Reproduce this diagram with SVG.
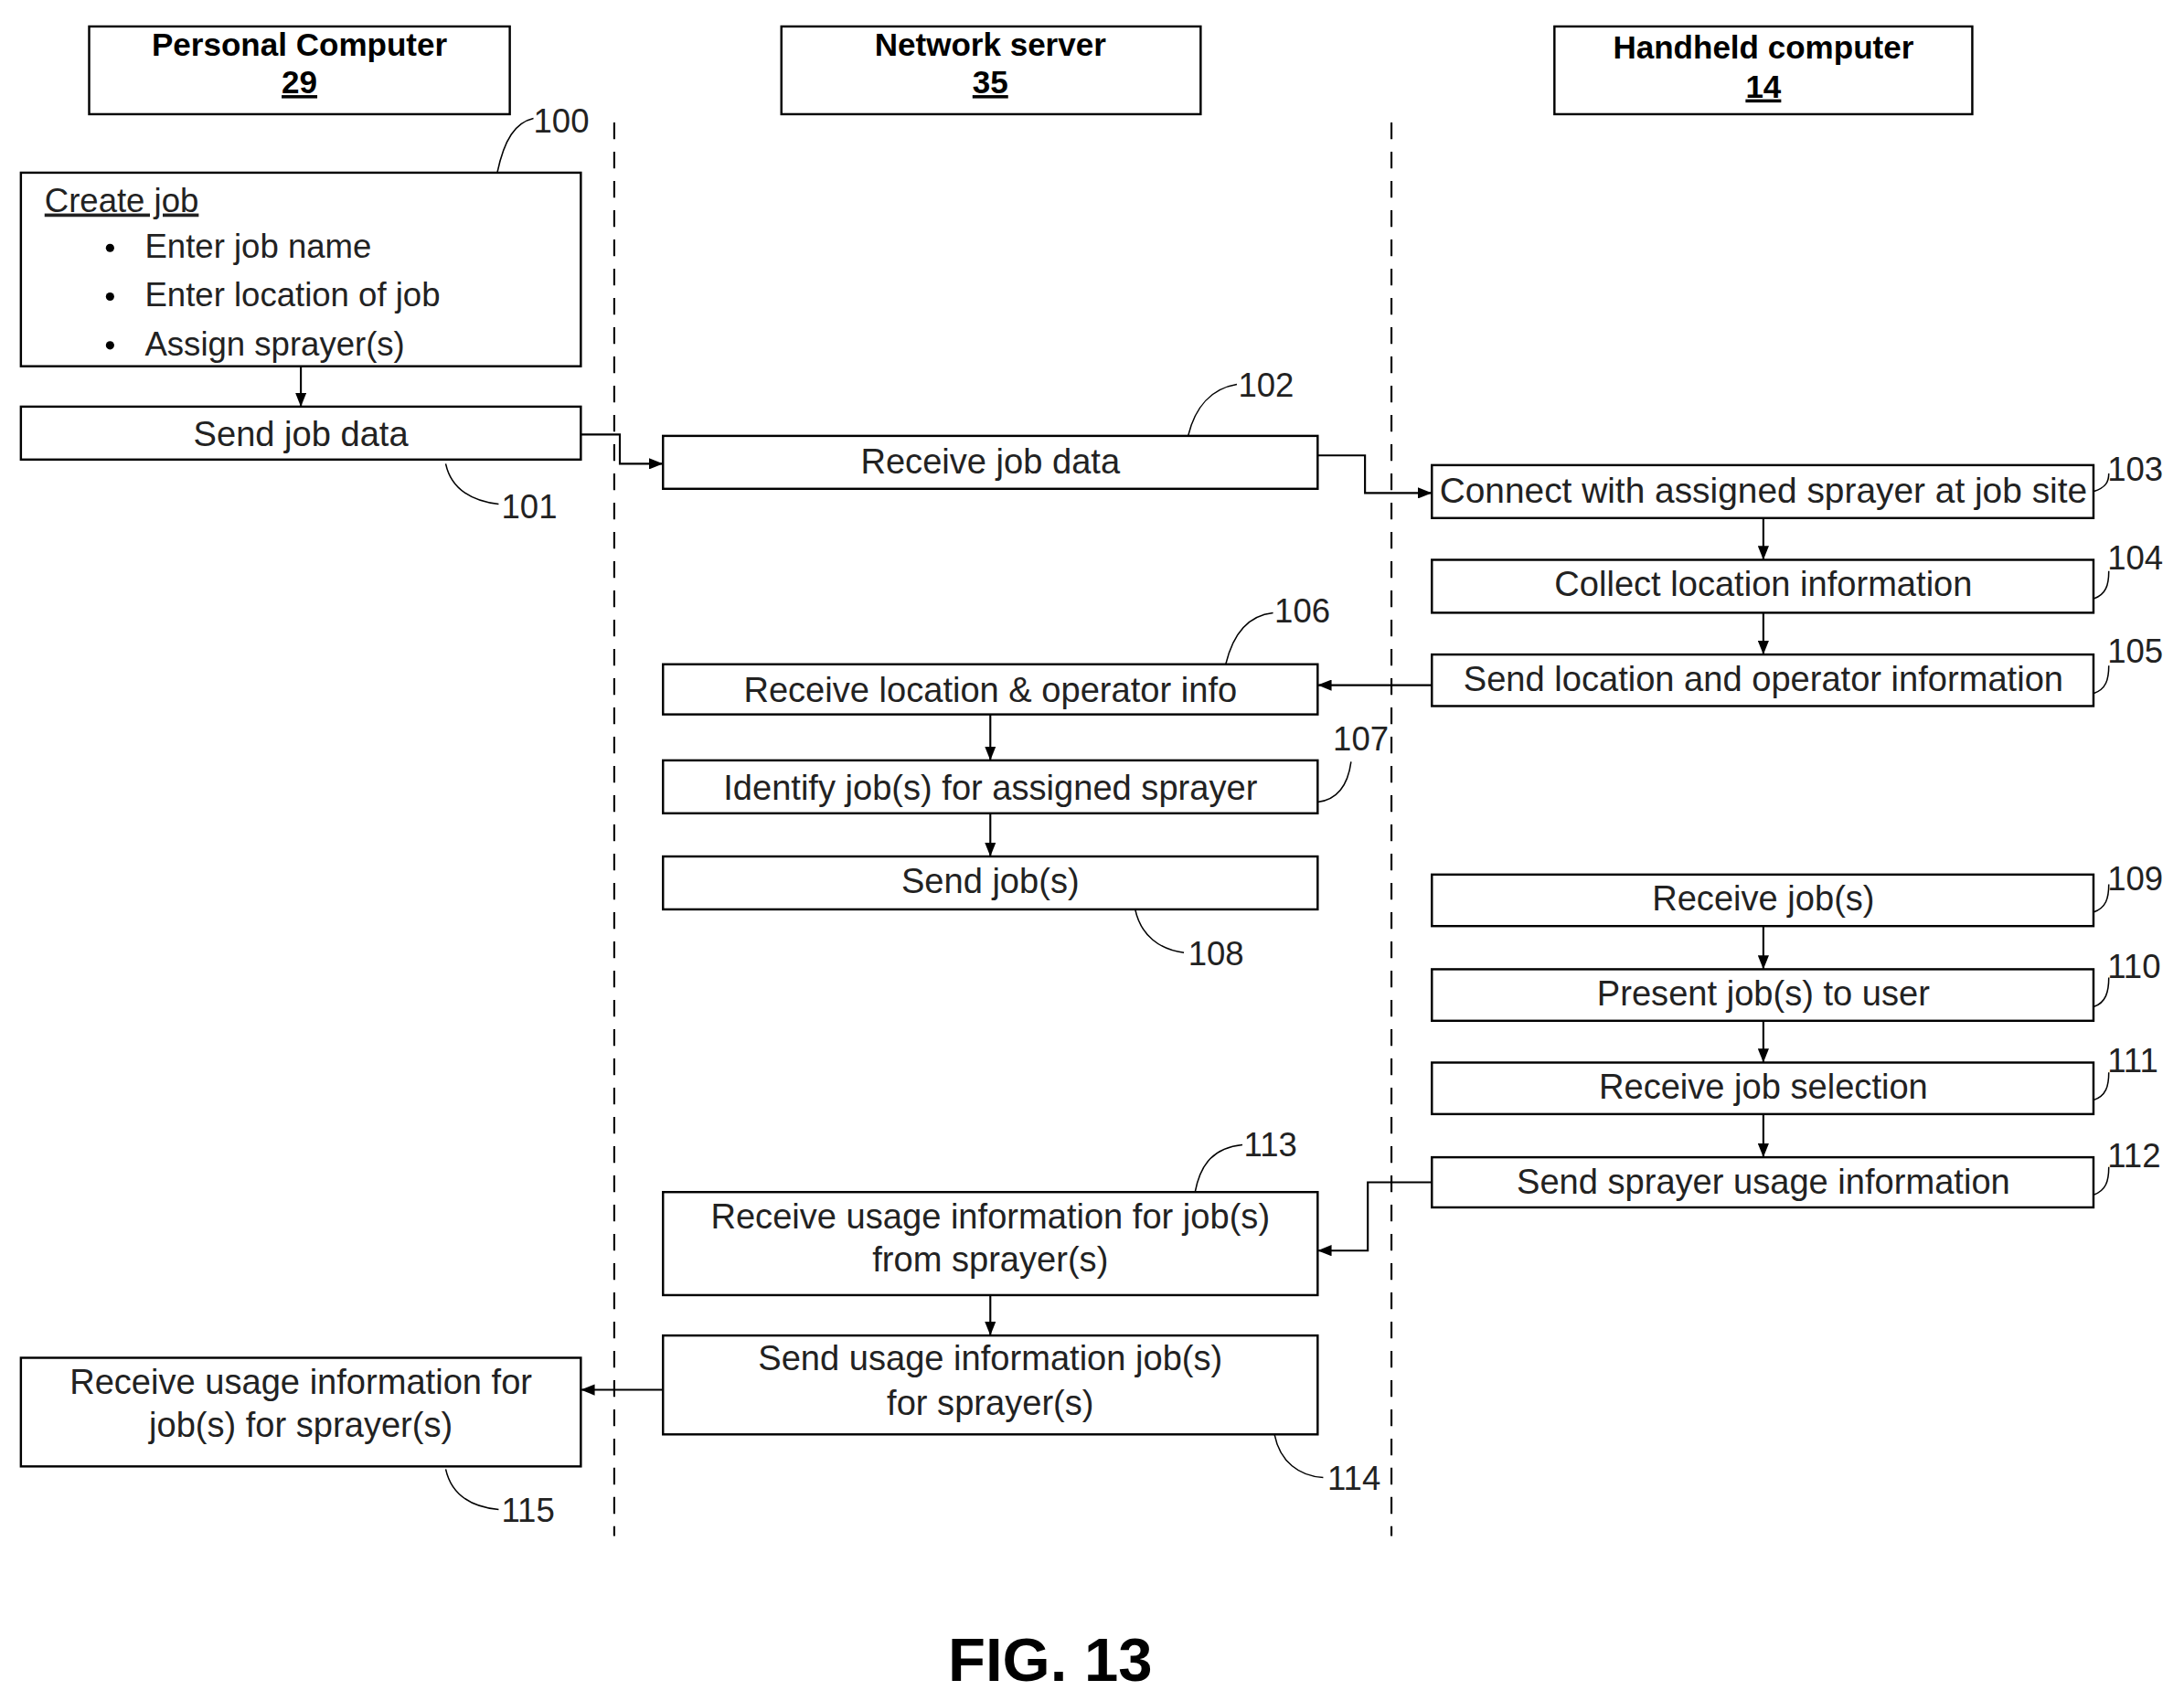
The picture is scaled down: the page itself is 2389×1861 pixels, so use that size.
<svg xmlns="http://www.w3.org/2000/svg" width="2389" height="1861" viewBox="0 0 2389 1861">
<defs>
<marker id="ah" markerWidth="10" markerHeight="8" refX="10" refY="4" orient="auto" markerUnits="userSpaceOnUse"><path d="M0,0 L10,4 L0,8 Z" fill="#000"/></marker>
</defs>
<style>
.b{fill:#fff;stroke:#000;stroke-width:1.6}
.t{font-family:"Liberation Sans",Arial,sans-serif;font-size:25px;fill:#222;text-anchor:middle}
.h{font-family:"Liberation Sans",Arial,sans-serif;font-size:23px;font-weight:bold;fill:#000;text-anchor:middle}
.r{font-family:"Liberation Sans",Arial,sans-serif;font-size:24px;fill:#222}
.c{fill:none;stroke:#000;stroke-width:1.4}
.l{fill:none;stroke:#000;stroke-width:1}
.d{stroke:#000;stroke-width:1.4;stroke-dasharray:12,9}
</style>
<rect width="2389" height="1861" fill="#fff"/>
<g transform="scale(1.5236)">
<g id="hdr-pc"><rect class="b" x="64" y="19" width="302" height="63"/><text class="h" x="215" y="40">Personal Computer</text><text class="h" x="215" y="67" text-decoration="underline">29</text></g>
<g id="hdr-ns"><rect class="b" x="561" y="19" width="301" height="63"/><text class="h" x="711" y="40">Network server</text><text class="h" x="711" y="67" text-decoration="underline">35</text></g>
<g id="hdr-hh"><rect class="b" x="1116" y="19" width="300" height="63"/><text class="h" x="1266" y="42">Handheld computer</text><text class="h" x="1266" y="70" text-decoration="underline">14</text></g>
<g id="lanes"><line class="d" x1="441" y1="88" x2="441" y2="1103"/><line class="d" x1="999" y1="88" x2="999" y2="1103"/></g>
<g id="n100"><rect class="b" x="15" y="124" width="402" height="139"/>
<text class="r" x="32" y="152" text-decoration="underline">Create job</text>
<circle cx="79" cy="178" r="3"/><circle cx="79" cy="213" r="3"/><circle cx="79" cy="248" r="3"/>
<text class="r" x="104" y="185">Enter job name</text><text class="r" x="104" y="220">Enter location of job</text><text class="r" x="104" y="255">Assign sprayer(s)</text></g>
<g id="n101"><rect class="b" x="15" y="292" width="402" height="38"/><text class="t" x="216" y="320">Send job data</text></g>
<g id="n102"><rect class="b" x="476" y="313" width="470" height="38"/><text class="t" x="711" y="340">Receive job data</text></g>
<g id="n103"><rect class="b" x="1028" y="334" width="475" height="38"/><text class="t" x="1266" y="361" textLength="465" lengthAdjust="spacingAndGlyphs">Connect with assigned sprayer at job site</text></g>
<g id="n104"><rect class="b" x="1028" y="402" width="475" height="38"/><text class="t" x="1266" y="428">Collect location information</text></g>
<g id="n105"><rect class="b" x="1028" y="470" width="475" height="37"/><text class="t" x="1266" y="496">Send location and operator information</text></g>
<g id="n106"><rect class="b" x="476" y="477" width="470" height="36"/><text class="t" x="711" y="504">Receive location &amp; operator info</text></g>
<g id="n107"><rect class="b" x="476" y="546" width="470" height="38"/><text class="t" x="711" y="574">Identify job(s) for assigned sprayer</text></g>
<g id="n108"><rect class="b" x="476" y="615" width="470" height="38"/><text class="t" x="711" y="641">Send job(s)</text></g>
<g id="n109"><rect class="b" x="1028" y="628" width="475" height="37"/><text class="t" x="1266" y="654">Receive job(s)</text></g>
<g id="n110"><rect class="b" x="1028" y="696" width="475" height="37"/><text class="t" x="1266" y="722">Present job(s) to user</text></g>
<g id="n111"><rect class="b" x="1028" y="763" width="475" height="37"/><text class="t" x="1266" y="789">Receive job selection</text></g>
<g id="n112"><rect class="b" x="1028" y="831" width="475" height="36"/><text class="t" x="1266" y="857">Send sprayer usage information</text></g>
<g id="n113"><rect class="b" x="476" y="856" width="470" height="74"/><text class="t" x="711" y="882">Receive usage information for job(s)</text><text class="t" x="711" y="913">from sprayer(s)</text></g>
<g id="n114"><rect class="b" x="476" y="959" width="470" height="71"/><text class="t" x="711" y="984">Send usage information job(s)</text><text class="t" x="711" y="1016">for sprayer(s)</text></g>
<g id="n115"><rect class="b" x="15" y="975" width="402" height="78"/><text class="t" x="216" y="1001">Receive usage information for</text><text class="t" x="216" y="1032">job(s) for sprayer(s)</text></g>
<g id="connectors">
<path class="c" marker-end="url(#ah)" d="M216,263 V292"/>
<path class="c" marker-end="url(#ah)" d="M417,312 H445 V333 H476"/>
<path class="c" marker-end="url(#ah)" d="M946,327 H980 V354 H1028"/>
<path class="c" marker-end="url(#ah)" d="M1266,372 V402"/>
<path class="c" marker-end="url(#ah)" d="M1266,440 V470"/>
<path class="c" marker-end="url(#ah)" d="M1028,492 H946"/>
<path class="c" marker-end="url(#ah)" d="M711,513 V546"/>
<path class="c" marker-end="url(#ah)" d="M711,584 V615"/>
<path class="c" marker-end="url(#ah)" d="M1266,665 V696"/>
<path class="c" marker-end="url(#ah)" d="M1266,733 V763"/>
<path class="c" marker-end="url(#ah)" d="M1266,800 V831"/>
<path class="c" marker-end="url(#ah)" d="M1028,849 H982 V898 H946"/>
<path class="c" marker-end="url(#ah)" d="M711,930 V959"/>
<path class="c" marker-end="url(#ah)" d="M476,998 H417"/>
</g>
<g id="refs">
<path class="l" d="M357,124 C362,100 370,88 383,85"/><text class="r" x="383" y="95">100</text>
<path class="l" d="M320,333 C324,352 340,360 358,362"/><text class="r" x="360" y="372">101</text>
<path class="l" d="M853,313 C858,292 870,279 888,276"/><text class="r" x="889" y="285">102</text>
<path class="l" d="M1503,353 C1512,350 1514,346 1514,340"/><text class="r" x="1513" y="345">103</text>
<path class="l" d="M1503,430 C1512,427 1514,420 1514,410"/><text class="r" x="1513" y="409">104</text>
<path class="l" d="M1503,498 C1512,495 1514,488 1514,478"/><text class="r" x="1513" y="476">105</text>
<path class="l" d="M880,477 C885,456 895,442 914,440"/><text class="r" x="915" y="447">106</text>
<path class="l" d="M946,576 C962,574 968,562 970,547"/><text class="r" x="957" y="539">107</text>
<path class="l" d="M815,653 C819,672 833,682 850,684"/><text class="r" x="853" y="693">108</text>
<path class="l" d="M1503,655 C1512,652 1514,645 1514,635"/><text class="r" x="1513" y="639">109</text>
<path class="l" d="M1503,723 C1512,720 1514,712 1514,702"/><text class="r" x="1513" y="702">110</text>
<path class="l" d="M1503,790 C1512,787 1514,780 1514,770"/><text class="r" x="1513" y="770">111</text>
<path class="l" d="M1503,858 C1512,855 1514,848 1514,838"/><text class="r" x="1513" y="838">112</text>
<path class="l" d="M858,856 C862,835 872,824 892,822"/><text class="r" x="893" y="830">113</text>
<path class="l" d="M915,1030 C919,1050 933,1060 950,1061"/><text class="r" x="953" y="1070">114</text>
<path class="l" d="M320,1055 C324,1073 338,1082 358,1084"/><text class="r" x="360" y="1093">115</text>
</g>
<text x="754" y="1207" text-anchor="middle" font-family="Liberation Sans,Arial,sans-serif" font-weight="bold" font-size="44">FIG. 13</text>
</g>
</svg>
